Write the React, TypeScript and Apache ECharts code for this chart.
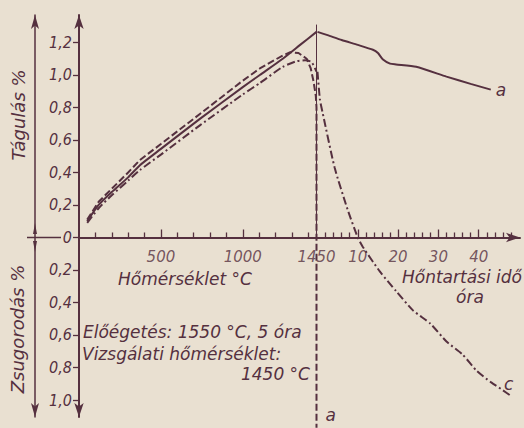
import React, { useEffect, useRef } from "react";
import * as echarts from "echarts";

const INK = "#55303f";
const PAPER = "#e9e0d1";
const FONT = "'DejaVu Sans Condensed', 'DejaVu Sans', sans-serif";
const FONT_W = "'DejaVu Sans', sans-serif";

// Heating part: [temperature °C, expansion %] (negative = shrinkage)
const tempA = [[50, 0.10], [120, 0.20], [200, 0.28], [300, 0.37], [372, 0.445], [500, 0.545], [738, 0.73], [1000, 0.925], [1104, 1.0], [1244, 1.10], [1350, 1.185], [1450, 1.265]];
const tempB = [[50, 0.11], [120, 0.22], [200, 0.30], [300, 0.40], [372, 0.477], [500, 0.575], [738, 0.76], [1000, 0.965], [1104, 1.04], [1244, 1.12], [1290, 1.14], [1340, 1.135], [1390, 1.10], [1415, 1.04], [1432, 0.96], [1446, 0.87], [1450, 0.80], [1450, -1.17]];
const tempC = [[50, 0.09], [120, 0.18], [200, 0.26], [300, 0.35], [372, 0.415], [500, 0.51], [738, 0.69], [1000, 0.88], [1104, 0.95], [1244, 1.05], [1330, 1.085], [1380, 1.09], [1420, 1.08], [1450, 1.02]];
// Holding part: [hours, %]
const timeA = [[0, 1.265], [2.5, 1.245], [6, 1.215], [10, 1.185], [13.75, 1.155], [15, 1.135], [16.25, 1.095], [18, 1.07], [19.5, 1.065], [24.5, 1.05], [32, 0.99], [38, 0.945], [43, 0.91]];
const timeC = [[0, 1.02], [0.6, 0.85], [1.25, 0.77], [4.25, 0.43], [7.5, 0.17], [10, 0], [11.3, -0.06], [15.5, -0.21], [19.5, -0.33], [23.75, -0.45], [28, -0.53], [32, -0.64], [36, -0.72], [39.5, -0.82], [43, -0.89], [46, -0.94], [48, -0.975]];

// Axis ticks / labels
const tempMinorTicks = [100, 200, 300, 400, 600, 700, 800, 900, 1100, 1200, 1300, 1400];
const tempMajorTicks = [500, 1000];
const tempLabels = [500, 1000, 1450];
const timeMinorTicks = [2, 4, 6, 8, 12, 14, 16, 18, 22, 24, 26, 28, 32, 34, 36, 38, 42, 44, 46, 48];
const timeMajorTicks = [10, 20, 30, 40];
const timeLabels = [10, 20, 30, 40];
const yTicks = [-1.0, -0.8, -0.6, -0.4, -0.2, 0, 0.2, 0.4, 0.6, 0.8, 1.0, 1.2];

const T_MAX = 2692.5;
const H_MIN = -59.18;
const H_MAX = 50.25;
const Y_MIN = -1.1046;
const Y_MAX = 1.369;

const txt = (text: string, x: number, y: number, extra: any = {}, rotation = 0) => ({
  type: "text",
  x,
  y,
  rotation,
  silent: true,
  style: {
    text,
    fill: INK,
    font: `italic 17px ${FONT_W}`,
    align: "left",
    verticalAlign: "middle",
    ...extra,
  },
});

export default function App() {
  const ref = useRef<HTMLDivElement>(null);
  useEffect(() => {
    if (!ref.current) return;
    const chart = echarts.init(ref.current, null, { renderer: "svg" });
    const yLabelStyle = {
      color: INK,
      fontFamily: FONT,
      fontStyle: "italic",
      fontSize: 16,
    };
    const xLabelStyle = {
      color: INK,
      fontFamily: FONT_W,
      fontStyle: "italic",
      fontSize: 15,
    };
    const hiddenLine = {
      show: true,
      onZero: true,
      onZeroAxisIndex: 0,
      lineStyle: { color: INK, width: 0, opacity: 0 },
    };
    const baseX = (min: number, max: number) => ({
      type: "value",
      gridIndex: 0,
      position: "bottom",
      min,
      max,
      splitLine: { show: false },
    });
    const tickStyle = { color: INK, width: 1.3 };
    const tickLabelSeries = (xAxisIndex: number, values: number[]) => ({
      type: "scatter",
      xAxisIndex,
      yAxisIndex: 0,
      silent: true,
      symbol: "circle",
      symbolSize: 1,
      itemStyle: { color: "rgba(0,0,0,0)" },
      data: values.map((v) => [v, 0]),
      label: {
        show: true,
        position: "bottom",
        distance: 12,
        formatter: (p: any) => String(p.value[0]),
        ...xLabelStyle,
      },
    });
    chart.setOption({
      animation: false,
      backgroundColor: PAPER,
      grid: { left: 79, top: 15, width: 441, height: 402, containLabel: false },
      xAxis: [
        {
          ...baseX(0, T_MAX),
          axisLine: {
            show: true,
            onZero: true,
            onZeroAxisIndex: 0,
            lineStyle: { color: INK, width: 2 },
            symbol: ["none", "arrow"],
            symbolSize: [7, 14],
          },
          axisTick: { show: true, inside: true, length: 5, customValues: tempMinorTicks, lineStyle: tickStyle },
          axisLabel: { show: false },
        },
        {
          ...baseX(H_MIN, H_MAX),
          axisLine: hiddenLine,
          axisTick: { show: true, inside: true, length: 5, customValues: timeMinorTicks, lineStyle: tickStyle },
          axisLabel: { show: false },
        },
        {
          ...baseX(0, T_MAX),
          axisLine: hiddenLine,
          axisTick: { show: true, inside: true, length: 8, customValues: tempMajorTicks, lineStyle: tickStyle },
          axisLabel: { show: false },
        },
        {
          ...baseX(H_MIN, H_MAX),
          axisLine: hiddenLine,
          axisTick: { show: true, inside: true, length: 8, customValues: timeMajorTicks, lineStyle: tickStyle },
          axisLabel: { show: false },
        },
      ],
      yAxis: [
        {
          type: "value",
          min: Y_MIN,
          max: Y_MAX,
          position: "left",
          splitLine: { show: false },
          axisLine: {
            show: true,
            onZero: false,
            lineStyle: { color: INK, width: 2 },
            symbol: ["arrow", "arrow"],
            symbolSize: [7, 14],
          },
          axisTick: { show: true, inside: false, length: 6, customValues: yTicks, lineStyle: tickStyle },
          axisLabel: {
            show: true,
            customValues: yTicks,
            margin: 7,
            ...yLabelStyle,
            formatter: (v: number) =>
              Math.abs(v) < 1e-9 ? "0" : Math.abs(v).toFixed(1).replace(".", ","),
          },
        },
        {
          type: "value",
          min: Y_MIN,
          max: Y_MAX,
          position: "left",
          offset: 44,
          splitLine: { show: false },
          axisLine: {
            show: true,
            onZero: false,
            lineStyle: { color: INK, width: 1.5 },
            symbol: ["arrow", "arrow"],
            symbolSize: [6, 14],
          },
          axisTick: { show: false },
          axisLabel: { show: false },
        },
      ],
      series: [
        {
          type: "line",
          name: "a",
          xAxisIndex: 0,
          yAxisIndex: 0,
          data: tempA,
          symbol: "none",
          smooth: 0.2,
          lineStyle: { color: INK, width: 2, type: "solid" },
          markLine: {
            silent: true,
            symbol: "none",
            label: { show: false },
            lineStyle: { color: INK, width: 1, type: "solid" },
            data: [[{ coord: [1450, 1.31] }, { coord: [1450, 0] }]],
          },
        },
        {
          type: "line",
          name: "a-time",
          xAxisIndex: 1,
          yAxisIndex: 0,
          data: timeA,
          symbol: "none",
          smooth: 0.2,
          lineStyle: { color: INK, width: 2, type: "solid" },
          endLabel: { show: true, formatter: "a", distance: 5, ...xLabelStyle, fontSize: 17 },
        },
        {
          type: "line",
          name: "b",
          xAxisIndex: 0,
          yAxisIndex: 0,
          data: tempB,
          symbol: "none",
          clip: false,
          lineStyle: { color: INK, width: 2, type: [7, 3] },
          endLabel: { show: true, formatter: "a", distance: 5, offset: [4, -13], ...xLabelStyle, fontSize: 17 },
        },
        {
          type: "line",
          name: "c",
          xAxisIndex: 0,
          yAxisIndex: 0,
          data: tempC,
          symbol: "none",
          smooth: 0.2,
          lineStyle: { color: INK, width: 2, type: [8, 3, 2, 3] },
        },
        {
          type: "line",
          name: "c-time",
          xAxisIndex: 1,
          yAxisIndex: 0,
          data: timeC,
          symbol: "none",
          smooth: 0.2,
          lineStyle: { color: INK, width: 2, type: [8, 3, 2, 3] },
          endLabel: { show: true, formatter: "c", distance: 5, offset: [-12, -12], ...xLabelStyle, fontSize: 17 },
        },
        tickLabelSeries(0, tempLabels),
        tickLabelSeries(1, timeLabels),
      ],
      graphic: [
        { type: "line", silent: true, shape: { x1: 27, y1: 237.5, x2: 61, y2: 237.5 }, style: { stroke: INK, lineWidth: 1.5 } },
        { type: "polygon", silent: true, shape: { points: [[35, 223], [37, 234], [33, 234]] }, style: { fill: INK } },
        { type: "polygon", silent: true, shape: { points: [[35, 252], [37, 241], [33, 241]] }, style: { fill: INK } },
        txt("Tágulás %", 18, 115, { align: "center", font: `italic 18px ${FONT_W}` }, Math.PI / 2),
        txt("Zsugorodás %", 17, 329, { align: "center", font: `italic 18px ${FONT_W}` }, Math.PI / 2),
        txt("Hőmérséklet °C", 185, 279, { align: "center" }),
        txt("Hőntartási idő", 462, 277, { align: "center" }),
        txt("óra", 470, 297, { align: "center" }),
        txt("Előégetés: 1550 °C, 5 óra", 83, 332),
        txt("Vizsgálati hőmérséklet:", 82, 354),
        txt("1450 °C", 310, 374, { align: "right" }),
      ],
    });
    return () => chart.dispose();
  }, []);
  return (
    <div
      ref={ref}
      style={{ position: "fixed", left: 0, top: 0, width: 524, height: 428 }}
    />
  );
}
